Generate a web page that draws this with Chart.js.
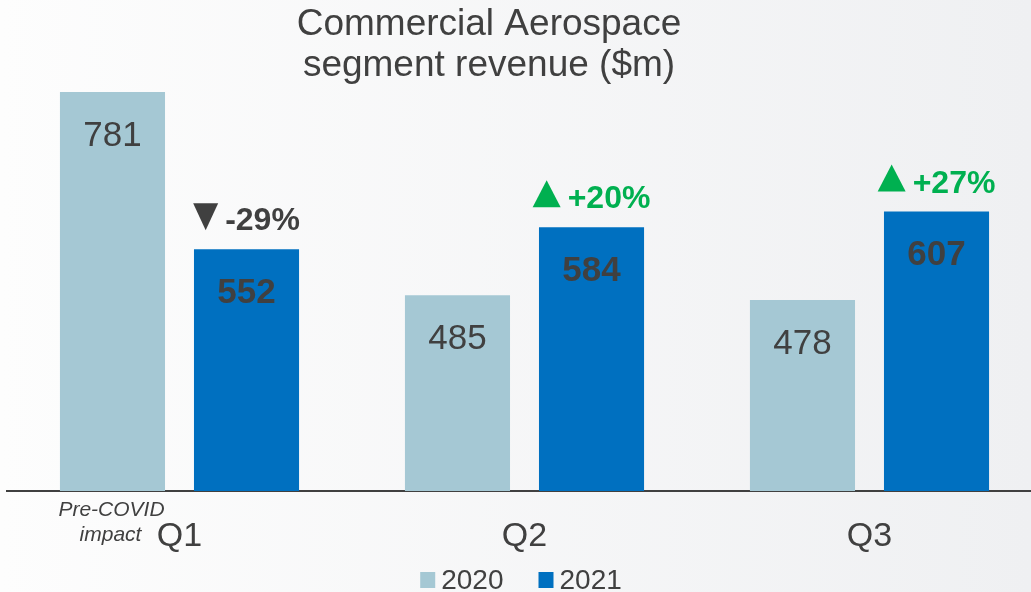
<!DOCTYPE html>
<html>
<head>
<meta charset="utf-8">
<title>Commercial Aerospace segment revenue</title>
<script src="https://cdn.jsdelivr.net/npm/chart.js@4/dist/chart.umd.min.js"></script>
<style>
    html, body { margin: 0; padding: 0; }
    #wrap {
        width: 1031px;
        height: 592px;
        overflow: hidden;
        background: linear-gradient(to right, #fdfdfd, #eff0f2);
    }
</style>
</head>
<body>
<div id="wrap">
    <canvas id="chart" width="1042" height="592"></canvas>
</div>
<script>
// Chart data
const quarters = ['Q1', 'Q2', 'Q3'];
const seriesNames = ['2020', '2021'];
const rev2020 = [781, 485, 478];
const rev2021 = [552, 584, 607];
const changeLabels = ['-29%', '+20%', '+27%'];
const changeUp = [false, true, true];
const titleLines = ['Commercial Aerospace', 'segment revenue ($m)'];
const noteLines = ['Pre-COVID', 'impact'];

const FONT = '"Liberation Sans", Arial, sans-serif';
const TEXT = '#404040';
const GREEN = '#00B050';
const colors = ['#A5C8D4', '#0070C0'];

// Draws title, bar values, change markers, note and legend
const annotations = {
    id: 'annotations',
    afterDraw(chart) {
        const ctx = chart.ctx;
        ctx.save();

        // Title
        ctx.fillStyle = TEXT;
        ctx.textAlign = 'center';
        ctx.textBaseline = 'alphabetic';
        ctx.font = '37px ' + FONT;
        ctx.fillText(titleLines[0], 489, 35);
        ctx.fillText(titleLines[1], 489, 76);

        // Values inside bars
        ctx.textBaseline = 'middle';
        chart.data.datasets.forEach((ds, i) => {
            const meta = chart.getDatasetMeta(i);
            ctx.font = (i === 1 ? 'bold ' : '') + '35px ' + FONT;
            meta.data.forEach((bar, j) => {
                ctx.fillStyle = TEXT;
                ctx.fillText(String(ds.data[j]), bar.x, bar.y + 44);
            });
        });

        // Change markers above 2021 bars
        const meta21 = chart.getDatasetMeta(1);
        ctx.font = 'bold 32px ' + FONT;
        ctx.textBaseline = 'alphabetic';
        ctx.textAlign = 'left';
        meta21.data.forEach((bar, j) => {
            const up = changeUp[j];
            const color = up ? GREEN : TEXT;
            const triW = up ? 28 : 25;
            const gap = 7;
            const tw = ctx.measureText(changeLabels[j]).width;
            const x0 = bar.x - (triW + gap + tw) / 2;
            const base = bar.y - 19;
            ctx.fillStyle = color;
            ctx.beginPath();
            if (up) {
                ctx.moveTo(x0, base - 1);
                ctx.lineTo(x0 + triW, base - 1);
                ctx.lineTo(x0 + triW / 2, base - 28);
            } else {
                ctx.moveTo(x0, base - 27);
                ctx.lineTo(x0 + triW, base - 27);
                ctx.lineTo(x0 + triW / 2, base);
            }
            ctx.closePath();
            ctx.fill();
            ctx.fillText(changeLabels[j], x0 + triW + gap, base);
        });

        // Pre-COVID note under first bar
        const first = chart.getDatasetMeta(0).data[0];
        ctx.fillStyle = TEXT;
        ctx.textAlign = 'center';
        ctx.font = 'italic 21px ' + FONT;
        ctx.fillText(noteLines[0], first.x - 1, 516);
        ctx.fillText(noteLines[1], first.x - 2, 541);

        // Legend
        ctx.font = '28px ' + FONT;
        const box = 15, boxGap = 6, itemGap = 35;
        const widths = seriesNames.map(n => ctx.measureText(n).width);
        let total = 0;
        widths.forEach((w, i) => { total += box + boxGap + w + (i > 0 ? itemGap : 0); });
        let x = chart.width / 2 - total / 2;
        ctx.textAlign = 'left';
        seriesNames.forEach((name, i) => {
            ctx.fillStyle = colors[i];
            ctx.fillRect(x, 572, box, 16);
            ctx.fillStyle = TEXT;
            ctx.fillText(name, x + box + boxGap, 589);
            x += box + boxGap + widths[i] + itemGap;
        });

        ctx.restore();
    }
};

new Chart(document.getElementById('chart'), {
    type: 'bar',
    data: {
        labels: quarters,
        datasets: [
            { label: seriesNames[0], data: rev2020, backgroundColor: colors[0] },
            { label: seriesNames[1], data: rev2021, backgroundColor: colors[1] }
        ]
    },
    options: {
        responsive: false,
        animation: false,
        events: [],
        categoryPercentage: 0.777,
        barPercentage: 0.784,
        layout: { padding: { left: 7, right: 0, top: 0, bottom: 0 } },
        plugins: {
            legend: { display: false },
            title: { display: false },
            tooltip: { enabled: false }
        },
        scales: {
            x: {
                grid: { display: false, drawTicks: false },
                border: { display: true, color: TEXT, width: 2 },
                ticks: {
                    color: TEXT,
                    padding: 25,
                    font: { family: FONT, size: 34 }
                },
                afterFit(scale) { scale.height = 101; }
            },
            y: {
                display: false,
                min: 200,
                max: 915
            }
        }
    },
    plugins: [annotations]
});
</script>
</body>
</html>
